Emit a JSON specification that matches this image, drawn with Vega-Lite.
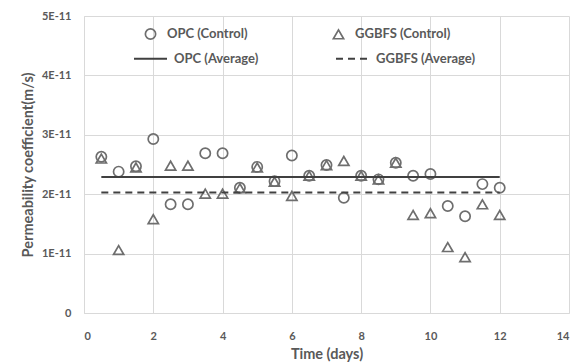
{
  "$schema": "https://vega.github.io/schema/vega-lite/v6.json",
  "width": 485,
  "height": 297,
  "autosize": {"type": "none"},
  "padding": {"left": 84, "top": 16, "right": 16, "bottom": 50},
  "background": "white",
  "config": {
    "view": {"stroke": null},
    "font": "Lato",
    "axis": {
      "gridColor": "#d9d9d9",
      "gridWidth": 1,
      "domainColor": "#d9d9d9",
      "domainWidth": 1,
      "ticks": false,
      "labelFont": "Lato",
      "labelFontSize": 11,
      "labelFontWeight": "bold",
      "labelColor": "#595959",
      "titleFont": "Lato",
      "titleFontSize": 14.5,
      "titleFontWeight": "bold",
      "titleColor": "#595959"
    },
    "legend": {
      "labelFont": "Lato",
      "labelFontSize": 13,
      "labelFontWeight": "bold",
      "labelColor": "#595959",
      "padding": 0
    }
  },
  "datasets": {
    "points": [
      {"day": 0.5, "sample": "OPC (Control)", "k": 2.63e-11},
      {"day": 1.0, "sample": "OPC (Control)", "k": 2.38e-11},
      {"day": 1.5, "sample": "OPC (Control)", "k": 2.47e-11},
      {"day": 2.0, "sample": "OPC (Control)", "k": 2.93e-11},
      {"day": 2.5, "sample": "OPC (Control)", "k": 1.83e-11},
      {"day": 3.0, "sample": "OPC (Control)", "k": 1.83e-11},
      {"day": 3.5, "sample": "OPC (Control)", "k": 2.69e-11},
      {"day": 4.0, "sample": "OPC (Control)", "k": 2.69e-11},
      {"day": 4.5, "sample": "OPC (Control)", "k": 2.11e-11},
      {"day": 5.0, "sample": "OPC (Control)", "k": 2.46e-11},
      {"day": 5.5, "sample": "OPC (Control)", "k": 2.22e-11},
      {"day": 6.0, "sample": "OPC (Control)", "k": 2.65e-11},
      {"day": 6.5, "sample": "OPC (Control)", "k": 2.31e-11},
      {"day": 7.0, "sample": "OPC (Control)", "k": 2.49e-11},
      {"day": 7.5, "sample": "OPC (Control)", "k": 1.94e-11},
      {"day": 8.0, "sample": "OPC (Control)", "k": 2.31e-11},
      {"day": 8.5, "sample": "OPC (Control)", "k": 2.25e-11},
      {"day": 9.0, "sample": "OPC (Control)", "k": 2.53e-11},
      {"day": 9.5, "sample": "OPC (Control)", "k": 2.31e-11},
      {"day": 10.0, "sample": "OPC (Control)", "k": 2.34e-11},
      {"day": 10.5, "sample": "OPC (Control)", "k": 1.80e-11},
      {"day": 11.0, "sample": "OPC (Control)", "k": 1.63e-11},
      {"day": 11.5, "sample": "OPC (Control)", "k": 2.17e-11},
      {"day": 12.0, "sample": "OPC (Control)", "k": 2.11e-11},
      {"day": 0.5, "sample": "GGBFS (Control)", "k": 2.60e-11},
      {"day": 1.0, "sample": "GGBFS (Control)", "k": 1.06e-11},
      {"day": 1.5, "sample": "GGBFS (Control)", "k": 2.45e-11},
      {"day": 2.0, "sample": "GGBFS (Control)", "k": 1.58e-11},
      {"day": 2.5, "sample": "GGBFS (Control)", "k": 2.48e-11},
      {"day": 3.0, "sample": "GGBFS (Control)", "k": 2.48e-11},
      {"day": 3.5, "sample": "GGBFS (Control)", "k": 2.01e-11},
      {"day": 4.0, "sample": "GGBFS (Control)", "k": 2.01e-11},
      {"day": 4.5, "sample": "GGBFS (Control)", "k": 2.10e-11},
      {"day": 5.0, "sample": "GGBFS (Control)", "k": 2.45e-11},
      {"day": 5.5, "sample": "GGBFS (Control)", "k": 2.21e-11},
      {"day": 6.0, "sample": "GGBFS (Control)", "k": 1.97e-11},
      {"day": 6.5, "sample": "GGBFS (Control)", "k": 2.31e-11},
      {"day": 7.0, "sample": "GGBFS (Control)", "k": 2.49e-11},
      {"day": 7.5, "sample": "GGBFS (Control)", "k": 2.56e-11},
      {"day": 8.0, "sample": "GGBFS (Control)", "k": 2.31e-11},
      {"day": 8.5, "sample": "GGBFS (Control)", "k": 2.25e-11},
      {"day": 9.0, "sample": "GGBFS (Control)", "k": 2.53e-11},
      {"day": 9.5, "sample": "GGBFS (Control)", "k": 1.65e-11},
      {"day": 10.0, "sample": "GGBFS (Control)", "k": 1.68e-11},
      {"day": 10.5, "sample": "GGBFS (Control)", "k": 1.11e-11},
      {"day": 11.0, "sample": "GGBFS (Control)", "k": 0.94e-11},
      {"day": 11.5, "sample": "GGBFS (Control)", "k": 1.83e-11},
      {"day": 12.0, "sample": "GGBFS (Control)", "k": 1.65e-11}
    ],
    "averages": [
      {"day": 0.5, "average": "OPC (Average)", "k": 2.29e-11},
      {"day": 12.0, "average": "OPC (Average)", "k": 2.29e-11},
      {"day": 0.5, "average": "GGBFS (Average)", "k": 2.03e-11},
      {"day": 12.0, "average": "GGBFS (Average)", "k": 2.03e-11}
    ]
  },
  "encoding": {
    "x": {
      "field": "day",
      "type": "quantitative",
      "scale": {"domain": [0, 14], "nice": false},
      "axis": {
        "values": [0, 2, 4, 6, 8, 10, 12, 14],
        "title": "Time (days)",
        "labelPadding": 17,
        "titlePadding": 6
      }
    },
    "y": {
      "field": "k",
      "type": "quantitative",
      "scale": {"domain": [0, 5e-11], "nice": false},
      "axis": {
        "values": [0, 1e-11, 2e-11, 3e-11, 4e-11, 5e-11],
        "labelExpr": "datum.value === 0 ? '0' : replace(format(datum.value, '.0e'), 'e', 'E')",
        "title": "Permeability coefficient(m/s)",
        "labelPadding": 13,
        "titlePadding": 6
      }
    }
  },
  "layer": [
    {
      "data": {"name": "points"},
      "mark": {"type": "point", "filled": false, "strokeWidth": 1.7, "color": "#6e6e6e", "size": 105, "opacity": 1},
      "encoding": {
        "shape": {
          "field": "sample",
          "type": "nominal",
          "scale": {"domain": ["OPC (Control)", "GGBFS (Control)"], "range": ["circle", "triangle-up"]},
          "legend": {
            "orient": "none",
            "legendX": 60,
            "legendY": 11,
            "direction": "horizontal",
            "title": null,
            "columnPadding": 81,
            "labelOffset": 10,
            "labelFontWeight": "bold",
            "labelFontSize": 13,
            "symbolSize": 105,
            "symbolStrokeWidth": 1.7,
            "symbolStrokeColor": "#6e6e6e"
          }
        }
      }
    },
    {
      "data": {"name": "averages"},
      "mark": {"type": "line", "strokeWidth": 2, "color": "#404040"},
      "encoding": {
        "strokeDash": {
          "field": "average",
          "type": "nominal",
          "scale": {"domain": ["OPC (Average)", "GGBFS (Average)"], "range": [[1, 0], [7, 5]]},
          "legend": {
            "orient": "none",
            "legendX": 49,
            "legendY": 25,
            "direction": "horizontal",
            "title": null,
            "columnPadding": 73,
            "labelOffset": 6,
            "labelFontWeight": "bold",
            "labelFontSize": 13,
            "symbolType": "stroke",
            "symbolSize": 1089,
            "symbolStrokeWidth": 2,
            "symbolStrokeColor": "#404040"
          }
        }
      }
    }
  ]
}
